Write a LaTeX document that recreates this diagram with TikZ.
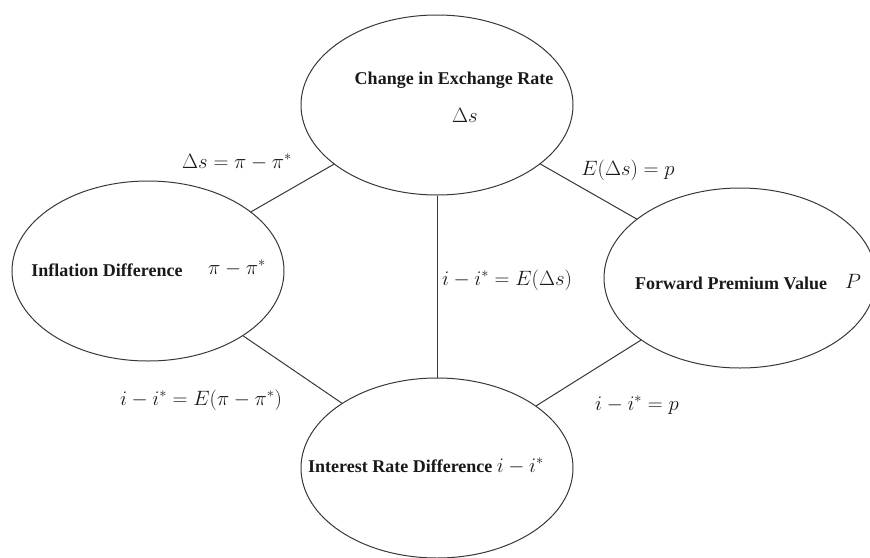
\documentclass[tikz,border=0pt]{standalone}
\usepackage{amsmath,amssymb}
\usepackage{fontspec}
\setmainfont{Liberation Serif}
\usepackage{tikz}
\usetikzlibrary{shapes.geometric, positioning, calc}
\usepackage{xcolor}
\definecolor{linegray}{RGB}{55,55,55}
\definecolor{textgray}{RGB}{25,25,25}

\begin{document}
\begin{tikzpicture}[x=1pt, y=-1pt,
    bubble/.style={ellipse, draw=linegray, line width=1pt,
                   minimum width=272pt, minimum height=180pt, inner sep=0pt},
    title/.style={font=\fontsize{18}{21}\selectfont\bfseries, text=textgray, inner sep=1pt},
    rel/.style={font=\fontsize{20}{23}\selectfont, text=textgray, inner sep=1pt},
    link/.style={draw=linegray, line width=1pt}]
    \useasboundingbox (0,0) rectangle (870,557);

    % the four ellipses
    \node[bubble] (chg)  at (437,105) {};
    \node[bubble] (infl) at (148,271) {};
    \node[bubble] (fpv)  at (740,278) {};
    \node[bubble] (ird)  at (437,468) {};

    % texts inside
    \node[title] (chgT) at (454,80) {Change in Exchange Rate};
    \node[rel]   (chgM) at (465,115) {$\Delta s$};
    \node[title] (inflT) at (107,270) {Inflation Difference};
    \node[rel]   (inflM) at (237,268) {$\pi-\pi^{*}$};
    \node[title] (fpvT) at (731,283) {Forward Premium Value};
    \node[rel]   (fpvM) at (853,281) {$P$};
    \node[title] (irdT) at (426,466) {Interest Rate Difference
      \fontsize{20}{23}\selectfont\mdseries$i-i^{*}$};

    % connectors
    \draw[link] (chg) -- (infl);
    \draw[link] (chg) -- (fpv);
    \draw[link] (chg) -- (ird);
    \draw[link] (infl) -- (ird);
    \draw[link] (fpv) -- (ird);

    % relations
    \node[rel] (r1) at (237,162) {$\Delta s=\pi-\pi^{*}$};
    \node[rel] (r2) at (628,170) {$E(\Delta s)=p$};
    \node[rel] (r3) at (507,280) {$i-i^{*}=E(\Delta s)$};
    \node[rel] (r4) at (201,400) {$i-i^{*}=E(\pi-\pi^{*})$};
    \node[rel] (r5) at (637,405) {$i-i^{*}=p$};
  \end{tikzpicture}
\end{document}
